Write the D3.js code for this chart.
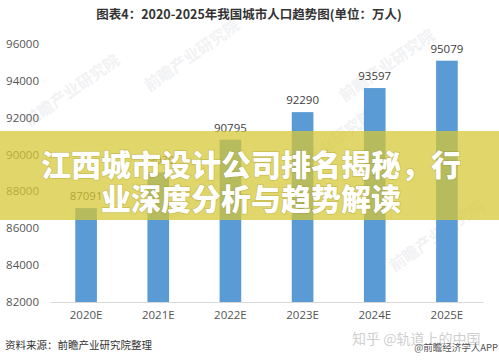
<!DOCTYPE html>
<html><head><meta charset="utf-8">
<script src="https://cdn.jsdelivr.net/npm/d3@7/dist/d3.min.js"></script>
<style>
html,body{margin:0;padding:0;background:#fff;}
svg{display:block;}
</style></head>
<body>
<script>
const title = "图表4：2020-2025年我国城市人口趋势图(单位：万人)";
const categories = ["2020E","2021E","2022E","2023E","2024E","2025E"];
const values = [87091, 89030, 90795, 92290, 93597, 95079];
const yTicks = [82000, 84000, 86000, 88000, 90000, 92000, 94000, 96000];
const source = "资料来源：前瞻产业研究院整理";
const bannerLines = ["江西城市设计公司排名揭秘，行", "业深度分析与趋势解读"];
const watermarkMain = "知乎 @轨道上的中国";
const watermarkSub = "@前瞻经济学人APP";
const bgMarks = ["前瞻产业研究院","前瞻产业研究院","前瞻产业研究院","前瞻产业研究院","前瞻产业研究院","前瞻产业研究院"];

const W = 499, H = 360;
const numFont = "'Open Sans','Noto Sans CJK SC',sans-serif";
const cjkFont = "'Noto Sans CJK SC','Noto Sans',sans-serif";

const svg = d3.select("body").append("svg").attr("width", W).attr("height", H);
svg.append("rect").attr("width", W).attr("height", H).attr("fill", "#fff");

const x = d3.scaleBand().domain(categories).range([50, 483]).paddingInner(0.7).paddingOuter(0.35);
const y = d3.scaleLinear().domain([82000, 96000]).range([302, 43.7]);

// faint background watermarks
const wmPos = [[75,95],[195,60],[390,70],[200,200],[330,150],[440,240]];
svg.append("g").selectAll("text").data(bgMarks).join("text")
  .attr("transform", (d,i) => `translate(${wmPos[i][0]},${wmPos[i][1]}) rotate(-35)`)
  .attr("text-anchor","middle")
  .attr("font-family", cjkFont).attr("font-size", 16).attr("font-weight","bold")
  .attr("fill", "#c8ccd2").attr("opacity", 0.25)
  .text(d => d);

// title
svg.append("text").attr("x", 249).attr("y", 19).attr("text-anchor","middle")
  .attr("font-family", cjkFont).attr("font-size", 12.5).attr("font-weight","bold")
  .attr("fill", "#333").text(title);

// y axis
const yAxis = d3.axisLeft(y).tickValues(yTicks).tickSize(0).tickPadding(0).tickFormat(d3.format("d"));
const gy = svg.append("g").attr("transform","translate(39,0)").call(yAxis);
gy.select(".domain").remove();
gy.selectAll("text").attr("font-family", numFont).attr("font-size", 11.5).attr("fill","#555");

// x axis
const xAxis = d3.axisBottom(x).tickSize(0).tickPadding(9);
const gx = svg.append("g").attr("transform","translate(0,302)").call(xAxis);
gx.select(".domain").attr("stroke","#d9d9d9");
gx.selectAll("text").attr("font-family", numFont).attr("font-size", 11.5).attr("fill","#555");

// bars
svg.append("g").selectAll("rect").data(values).join("rect")
  .attr("x", (d,i) => x(categories[i]))
  .attr("width", x.bandwidth())
  .attr("y", d => y(d))
  .attr("height", d => y(82000) - y(d))
  .attr("fill", "#5b9bd5");

// value labels
svg.append("g").selectAll("text").data(values).join("text")
  .attr("x", (d,i) => x(categories[i]) + x.bandwidth()/2)
  .attr("y", d => y(d) - 8)
  .attr("text-anchor","middle")
  .attr("font-family", numFont).attr("font-size", 11.5).attr("fill","#404040")
  .text(d => d);

// source
svg.append("text").attr("x", 5).attr("y", 349)
  .attr("font-family", cjkFont).attr("font-size", 10.5).attr("fill","#333").text(source);

// zhihu watermark
svg.append("text").attr("x", 352).attr("y", 344)
  .attr("font-family", cjkFont).attr("font-size", 14).attr("fill","#cfcfcf").text(watermarkMain);
svg.append("text").attr("x", 498).attr("y", 351).attr("text-anchor","end")
  .attr("font-family", cjkFont).attr("font-size", 9.5).attr("fill","#555").text(watermarkSub);

// banner overlay
svg.append("rect").attr("x", 0).attr("y", 131).attr("width", W).attr("height", 89)
  .attr("fill", "rgb(214,200,52)").attr("opacity", 0.74);

const bannerY = [165, 199];
svg.append("g").selectAll("text").data(bannerLines).join("text")
  .attr("x", 251).attr("y", (d,i) => bannerY[i] + 11)
  .attr("text-anchor","middle")
  .attr("font-family", cjkFont).attr("font-size", 30).attr("font-weight","900")
  .attr("fill", "#fff")
  .style("paint-order","stroke").attr("stroke","rgba(120,110,30,0.25)").attr("stroke-width",1.5)
  .text(d => d);
</script>
</body></html>
